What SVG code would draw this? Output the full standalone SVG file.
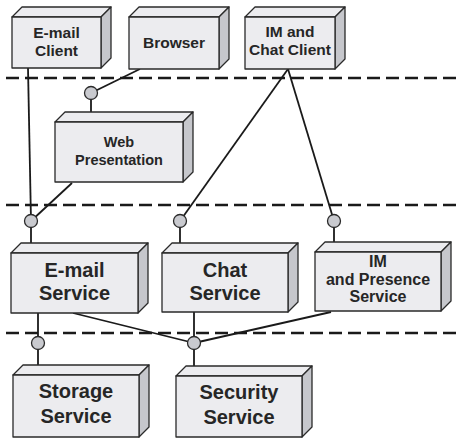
<svg xmlns="http://www.w3.org/2000/svg" width="458" height="439" viewBox="0 0 458 439">
<style>
.f{fill:#ececef;stroke:#2a2a2a;stroke-width:1.3;stroke-linejoin:round}
.s{fill:#c6c7cc;stroke:#2a2a2a;stroke-width:1.3;stroke-linejoin:round}
.t{font-family:"Liberation Sans",Arial,sans-serif;font-weight:bold;fill:#262626;text-anchor:middle}
.c{stroke:#1a1a1a;stroke-width:1.8;fill:none}
.d{stroke:#1a1a1a;stroke-width:2.6;stroke-dasharray:13 6;fill:none}
.p{fill:#c9cacf;stroke:#2a2a2a;stroke-width:1.3}
</style>
<g id="tiers">
<line class="d" x1="6" y1="78" x2="458" y2="78"/>
<line class="d" x1="6" y1="205" x2="458" y2="205"/>
<line class="d" x1="6" y1="333" x2="458" y2="333"/>
</g>
<g id="connectors">
<line class="c" x1="28" y1="68" x2="31" y2="221"/>
<line class="c" x1="140" y1="69" x2="91" y2="93"/>
<line class="c" x1="91" y1="93" x2="91" y2="116"/>
<line class="c" x1="72" y1="183" x2="31" y2="221"/>
<line class="c" x1="31" y1="221" x2="31" y2="249"/>
<line class="c" x1="288" y1="69" x2="180" y2="221"/>
<line class="c" x1="288" y1="69" x2="334" y2="221"/>
<line class="c" x1="180" y1="221" x2="180" y2="248"/>
<line class="c" x1="334" y1="221" x2="334" y2="246"/>
<line class="c" x1="38" y1="313" x2="38" y2="368"/>
<line class="c" x1="73" y1="313" x2="194" y2="343"/>
<line class="c" x1="194" y1="312" x2="194" y2="369"/>
<line class="c" x1="331" y1="312" x2="194" y2="343"/>
<circle class="p" cx="91" cy="93" r="6.5"/>
<circle class="p" cx="31" cy="221" r="6.5"/>
<circle class="p" cx="180" cy="221" r="6.5"/>
<circle class="p" cx="334" cy="221" r="6.5"/>
<circle class="p" cx="38" cy="343" r="6.5"/>
<circle class="p" cx="194" cy="343" r="6.5"/>
</g>
<g id="email-client">
<polygon class="f" points="12,17 22,7 111,7 101,17"/>
<polygon class="s" points="101,17 111,7 111,58 101,68"/>
<rect class="f" x="12" y="17" width="89" height="51"/>
<text class="t" font-size="15.5" x="56.5" y="38">E-mail</text>
<text class="t" font-size="15.5" x="56.5" y="56">Client</text>
</g>
<g id="browser">
<polygon class="f" points="129,17 139,7 229,7 219,17"/>
<polygon class="s" points="219,17 229,7 229,59 219,69"/>
<rect class="f" x="129" y="17" width="90" height="52"/>
<text class="t" font-size="15.5" x="174" y="48">Browser</text>
</g>
<g id="im-chat-client">
<polygon class="f" points="245,17 255,7 345,7 335,17"/>
<polygon class="s" points="335,17 345,7 345,59 335,69"/>
<rect class="f" x="245" y="17" width="90" height="52"/>
<text class="t" font-size="15.5" x="290" y="37">IM and</text>
<text class="t" font-size="15.5" x="290" y="55">Chat Client</text>
</g>
<g id="web-presentation">
<polygon class="f" points="55,122 65,112 193,112 183,122"/>
<polygon class="s" points="183,122 193,112 193,172 183,182"/>
<rect class="f" x="55" y="122" width="128" height="60"/>
<text class="t" font-size="14.5" x="119" y="147">Web</text>
<text class="t" font-size="14.5" x="119" y="165">Presentation</text>
</g>
<g id="email-service">
<polygon class="f" points="11,253 21,243 148,243 138,253"/>
<polygon class="s" points="138,253 148,243 148,303 138,313"/>
<rect class="f" x="11" y="253" width="127" height="60"/>
<text class="t" font-size="20" x="74.5" y="277">E-mail</text>
<text class="t" font-size="20" x="74.5" y="300">Service</text>
</g>
<g id="chat-service">
<polygon class="f" points="162,253 172,243 298,243 288,253"/>
<polygon class="s" points="288,253 298,243 298,302 288,312"/>
<rect class="f" x="162" y="253" width="126" height="59"/>
<text class="t" font-size="20" x="225" y="277">Chat</text>
<text class="t" font-size="20" x="225" y="300">Service</text>
</g>
<g id="im-presence-service">
<polygon class="f" points="315,252 325,242 451,242 441,252"/>
<polygon class="s" points="441,252 451,242 451,301 441,311"/>
<rect class="f" x="315" y="252" width="126" height="59"/>
<text class="t" font-size="16" x="378" y="267">IM</text>
<text class="t" font-size="16" x="378" y="284.5">and Presence</text>
<text class="t" font-size="16" x="378" y="302">Service</text>
</g>
<g id="storage-service">
<polygon class="f" points="13,375 23,365 149,365 139,375"/>
<polygon class="s" points="139,375 149,365 149,427 139,437"/>
<rect class="f" x="13" y="375" width="126" height="62"/>
<text class="t" font-size="20" x="76" y="398">Storage</text>
<text class="t" font-size="20" x="76" y="423">Service</text>
</g>
<g id="security-service">
<polygon class="f" points="176,376 186,366 312,366 302,376"/>
<polygon class="s" points="302,376 312,366 312,427 302,437"/>
<rect class="f" x="176" y="376" width="126" height="61"/>
<text class="t" font-size="20" x="239" y="399">Security</text>
<text class="t" font-size="20" x="239" y="424">Service</text>
</g>
</svg>
